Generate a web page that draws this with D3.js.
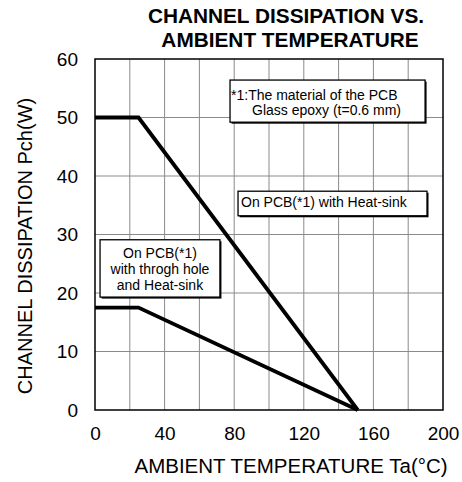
<!DOCTYPE html>
<html>
<head>
<meta charset="utf-8">
<script src="https://cdn.jsdelivr.net/npm/d3@7"></script>
<style>
  body { margin: 0; background: #fff; }
  text { font-family: "Liberation Sans", Arial, sans-serif; fill: #000; }
</style>
</head>
<body>
<div id="chart"></div>
<script>
// Chart data
const xTickValues = [0, 40, 80, 120, 160, 200];
const yTickValues = [0, 10, 20, 30, 40, 50, 60];
const xGridValues = [20, 40, 60, 80, 100, 120, 140, 160, 180];
const yGridValues = [10, 20, 30, 40, 50];

// On PCB with heat-sink
const tempHeatSink = [0, 25, 151];
const pchHeatSink = [50, 50, 0];
// On PCB with through hole and heat-sink
const tempThroughHole = [0, 25, 151];
const pchThroughHole = [17.5, 17.5, 0];

const titleLines = ["CHANNEL DISSIPATION VS.", "AMBIENT TEMPERATURE"];
const xLabel = "AMBIENT TEMPERATURE Ta(\u00B0C)";
const yLabel = "CHANNEL DISSIPATION Pch(W)";

// Annotation boxes (corners in data units)
const noteBoxes = [
  { x0: 77.6, x1: 189.7, y0: 56.4, y1: 49.2, align: "start",
    lines: ["*1:The material of the PCB", "Glass epoxy (t=0.6 mm)"], dx: [1, 22] },
  { x0: 82.2, x1: 190.8, y0: 37.4, y1: 33.2, align: "start",
    lines: ["On PCB(*1) with Heat-sink"], dx: [3] },
  { x0: 2.9, x1: 71.8, y0: 29.1, y1: 19.3, align: "middle",
    lines: ["On PCB(*1)", "with throgh hole", "and Heat-sink"], dx: [0, 0, 0] }
];

const width = 462, height = 482;
const margin = { top: 59, right: 19, bottom: 72, left: 95 };
const innerW = width - margin.left - margin.right;
const innerH = height - margin.top - margin.bottom;

const svg = d3.select("#chart").append("svg")
  .attr("width", width)
  .attr("height", height);

const g = svg.append("g")
  .attr("transform", `translate(${margin.left},${margin.top})`);

const x = d3.scaleLinear().domain([0, 200]).range([0, innerW]);
const y = d3.scaleLinear().domain([0, 60]).range([innerH, 0]);

// Grid
g.selectAll(".vgrid").data(xGridValues).enter().append("line")
  .attr("x1", d => x(d)).attr("x2", d => x(d))
  .attr("y1", 0).attr("y2", innerH)
  .attr("stroke", "#8a8a8a").attr("stroke-width", 1);

g.selectAll(".hgrid").data(yGridValues).enter().append("line")
  .attr("x1", 0).attr("x2", innerW)
  .attr("y1", d => y(d)).attr("y2", d => y(d))
  .attr("stroke", "#8a8a8a").attr("stroke-width", 1);

// Frame
g.append("rect")
  .attr("width", innerW).attr("height", innerH)
  .attr("fill", "none").attr("stroke", "#000").attr("stroke-width", 1.5);

// Axes (labels only)
const xAxis = g.append("g")
  .attr("transform", `translate(0,${innerH})`)
  .call(d3.axisBottom(x).tickValues(xTickValues).tickSize(0).tickPadding(17));
const yAxis = g.append("g")
  .call(d3.axisLeft(y).tickValues(yTickValues).tickSize(0).tickPadding(17));
[xAxis, yAxis].forEach(a => {
  a.select(".domain").remove();
  a.selectAll("text")
    .attr("font-family", "Liberation Sans, Arial, sans-serif")
    .attr("font-size", 19)
    .attr("fill", "#000");
});

// Curves
const line = d3.line().x(d => x(d[0])).y(d => y(d[1]));
[[tempHeatSink, pchHeatSink], [tempThroughHole, pchThroughHole]].forEach(([t, p]) => {
  g.append("path")
    .datum(t.map((v, i) => [v, p[i]]))
    .attr("d", line)
    .attr("fill", "none")
    .attr("stroke", "#000")
    .attr("stroke-width", 3.8)
    .attr("stroke-linejoin", "miter");
});

// Notes
noteBoxes.forEach(b => {
  const bx = x(b.x0), by = y(b.y0);
  const bw = x(b.x1) - x(b.x0), bh = y(b.y1) - y(b.y0);
  g.append("rect")
    .attr("x", bx + 1.5).attr("y", by + 1.5)
    .attr("width", bw).attr("height", bh)
    .attr("fill", "#000");
  g.append("rect")
    .attr("x", bx).attr("y", by)
    .attr("width", bw).attr("height", bh)
    .attr("fill", "#fff").attr("stroke", "#000").attr("stroke-width", 1.3);
  b.lines.forEach((txt, i) => {
    g.append("text")
      .attr("x", b.align === "middle" ? bx + bw / 2 : bx + b.dx[i])
      .attr("y", by + (b.lines.length === 1 ? 16 : b.lines.length === 2 ? 20 + i * 15 : 18 + i * 16))
      .attr("text-anchor", b.align)
      .attr("font-size", 14)
      .text(txt);
  });
});

// Title
svg.selectAll(".title").data(titleLines).enter().append("text")
  .attr("x", (d, i) => i === 0 ? 286 : 290)
  .attr("y", (d, i) => 23 + i * 24)
  .attr("text-anchor", "middle")
  .attr("font-size", 20.8)
  .attr("font-weight", "bold")
  .text(d => d);

// Axis titles
svg.append("text")
  .attr("x", 291).attr("y", 473)
  .attr("text-anchor", "middle")
  .attr("font-size", 20.5)
  .text(xLabel);

svg.append("text")
  .attr("transform", "translate(32,246) rotate(-90)")
  .attr("text-anchor", "middle")
  .attr("font-size", 20)
  .text(yLabel);
</script>
</body>
</html>
